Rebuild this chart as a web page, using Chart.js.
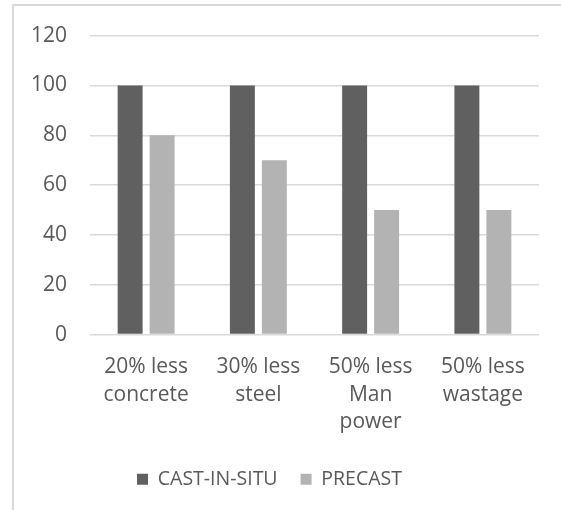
<!DOCTYPE html>
<html>
<head>
<meta charset="utf-8">
<script src="https://cdn.jsdelivr.net/npm/chart.js@4/dist/chart.umd.min.js"></script>
<style>
	body { margin: 0; background: #fff; }
	#frame { position: absolute; left: 12px; top: 4px; width: 560px; height: 520px; border-top: 2px solid #d9d9d9; border-left: 2px solid #d9d9d9; }
	#wrap { position: absolute; left: 0; top: 0; width: 561px; height: 510px; }
</style>
</head>
<body>
<div id="frame"></div>
<div id="wrap"><canvas id="myChart" width="561" height="510"></canvas></div>
<script>
// Dados do gráfico
const categories = [["20% less", "concrete"], ["30% less", "steel"], ["50% less", "Man", "power"], ["50% less", "wastage"]];
const castInSitu = [100, 100, 100, 100];
const precast = [80, 70, 50, 50];
const yTicks = [0, 20, 40, 60, 80, 100, 120];

const textColor = '#595959';
const fontFamily = "'Open Sans', sans-serif";

let ctx = document.getElementById('myChart').getContext('2d');
let chart = new Chart(ctx, {
	type: 'bar',
	data: {
		labels: categories,
		datasets: [{
			label: 'CAST-IN-SITU',
			data: castInSitu,
			backgroundColor: '#606060',
			barPercentage: 0.78,
			categoryPercentage: 0.57
		}, {
			label: 'PRECAST',
			data: precast,
			backgroundColor: '#b3b3b3',
			barPercentage: 0.78,
			categoryPercentage: 0.57
		}]
	},
	options: {
		responsive: false,
		animation: false,
		layout: { padding: { top: 35, right: 22, left: 0, bottom: 11 } },
		plugins: {
			tooltip: { enabled: false },
			legend: {
				position: 'bottom',
				labels: {
					color: textColor,
					font: { family: fontFamily, size: 19.5 },
					boxWidth: 11,
					boxHeight: 11,
					padding: 23
				}
			}
		},
		scales: {
			x: {
				grid: { display: false },
				border: { display: false },
				ticks: {
					color: textColor,
					font: { family: fontFamily, size: 21, lineHeight: 1.3 },
					maxRotation: 0,
					padding: 11
				}
			},
			y: {
				min: 0,
				max: 120,
				afterBuildTicks: (scale) => { scale.ticks = yTicks.map(v => ({ value: v })); },
				afterFit: (scale) => { scale.width = 90; },
				grid: { color: '#d9d9d9', lineWidth: 1.5, drawTicks: false },
				border: { display: false },
				ticks: {
					color: textColor,
					font: { family: fontFamily, size: 21 },
					padding: 23
				}
			}
		}
	}
});
</script>
</body>
</html>
